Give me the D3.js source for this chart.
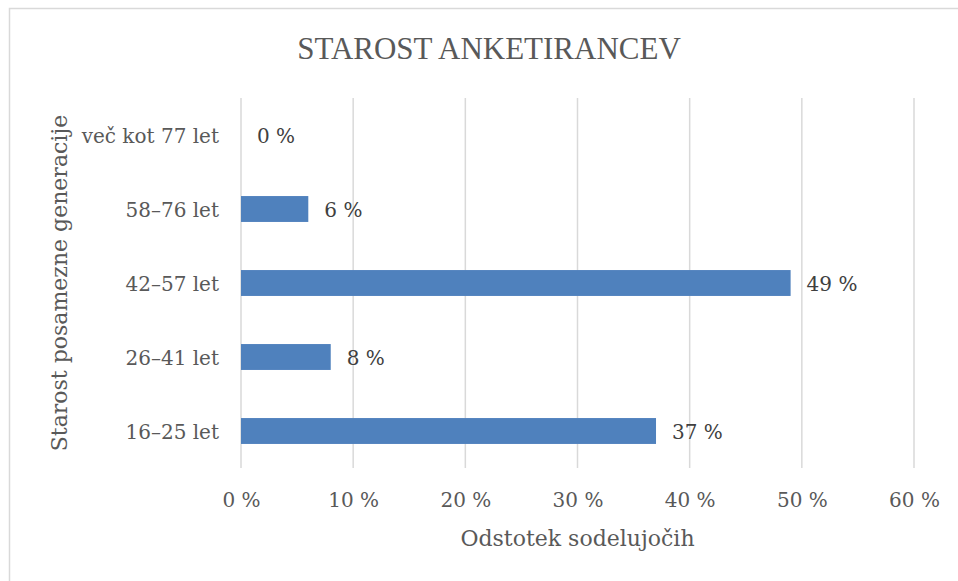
<!DOCTYPE html>
<html>
<head>
<meta charset="utf-8">
<script src="https://cdn.jsdelivr.net/npm/d3@7"></script>
<style>
  body { margin:0; background:#fff; }
</style>
</head>
<body>
<script>
// data
var categories = ["16–25 let", "26–41 let", "42–57 let", "58–76 let", "več kot 77 let"],
    values = [37, 8, 49, 6, 0],
    ticks = [0, 10, 20, 30, 40, 50, 60];

// setup
var width = 958,
    height = 581,
    margin = {left:241, top:98, right:44, bottom:113},
    serif = "'DejaVu Serif', serif",
    svg = d3.select("body").append("svg").attr("width",width).attr("height",height)
            .style("font-family",serif);

// outer frame (cut off on right and bottom like the original)
svg.append("rect")
   .attr("x",9.5).attr("y",8.5)
   .attr("width",980).attr("height",620)
   .attr("fill","#fff").attr("stroke","#d9d9d9").attr("stroke-width",1.5);

var x = d3.scaleLinear()
          .domain([0,60])
          .range([margin.left, width - margin.right]),
    // reversed so the youngest group sits at the bottom
    y = d3.scaleBand()
          .domain(categories.slice().reverse())
          .range([margin.top, height - margin.bottom])
          .paddingInner(0.65)
          .paddingOuter(0.325);

// gridlines
svg.append("g").attr("class","grid")
   .selectAll("line")
   .data(ticks)
   .enter().append("line")
      .attr("x1",function(d){ return x(d); })
      .attr("x2",function(d){ return x(d); })
      .attr("y1",margin.top)
      .attr("y2",height - margin.bottom)
      .attr("stroke","#d9d9d9").attr("stroke-width",1.5);

// bars
svg.selectAll("rect.bar")
   .data(values)
   .enter().append("rect")
      .attr("class","bar")
      .attr("x",x(0))
      .attr("y",function(d,i){ return y(categories[i]); })
      .attr("width",function(d){ return x(d) - x(0); })
      .attr("height",y.bandwidth())
      .attr("fill","#4f81bd");

// value labels
svg.selectAll("text.val")
   .data(values)
   .enter().append("text")
      .attr("class","val")
      .attr("x",function(d){ return x(d) + 16; })
      .attr("y",function(d,i){ return y(categories[i]) + y.bandwidth()/2 + 8; })
      .attr("font-size",20)
      .attr("fill","#404040")
      .text(function(d){ return d + " %"; });

// x axis (labels only)
var xAxis = d3.axisBottom(x)
              .tickValues(ticks)
              .tickSize(0)
              .tickPadding(0)
              .tickFormat(function(d){ return d + " %"; });

svg.append("g").attr("class","x axis")
   .attr("transform","translate(0,"+(height - margin.bottom)+")")
   .call(xAxis)
   .call(function(g){ g.select(".domain").remove(); })
   .selectAll("text")
      .attr("dy",null)
      .attr("y",39)
      .style("font-size","20px")
      .style("font-family",serif)
      .attr("fill","#595959");

// y axis (labels only)
var yAxis = d3.axisLeft(y).tickSize(0).tickPadding(22);

svg.append("g").attr("class","y axis")
   .attr("transform","translate("+margin.left+",0)")
   .call(yAxis)
   .call(function(g){ g.select(".domain").remove(); })
   .selectAll("text")
      .attr("dy",null)
      .attr("y",8)
      .style("font-size","20px")
      .style("font-family",serif)
      .attr("fill","#595959");

// titles
svg.append("text")
   .attr("x",489).attr("y",59)
   .attr("text-anchor","middle")
   .style("font-family","'Liberation Serif', serif")
   .style("font-size","31px")
   .attr("fill","#595959")
   .text("STAROST ANKETIRANCEV");

svg.append("text")
   .attr("x",(x(0) + x(60))/2).attr("y",546)
   .attr("text-anchor","middle")
   .attr("font-size",22)
   .attr("fill","#595959")
   .text("Odstotek sodelujočih");

svg.append("text")
   .attr("transform","translate(67,"+((margin.top + height - margin.bottom)/2)+") rotate(-90)")
   .attr("text-anchor","middle")
   .attr("font-size",22)
   .attr("fill","#595959")
   .text("Starost posamezne generacije");
</script>
</body>
</html>
